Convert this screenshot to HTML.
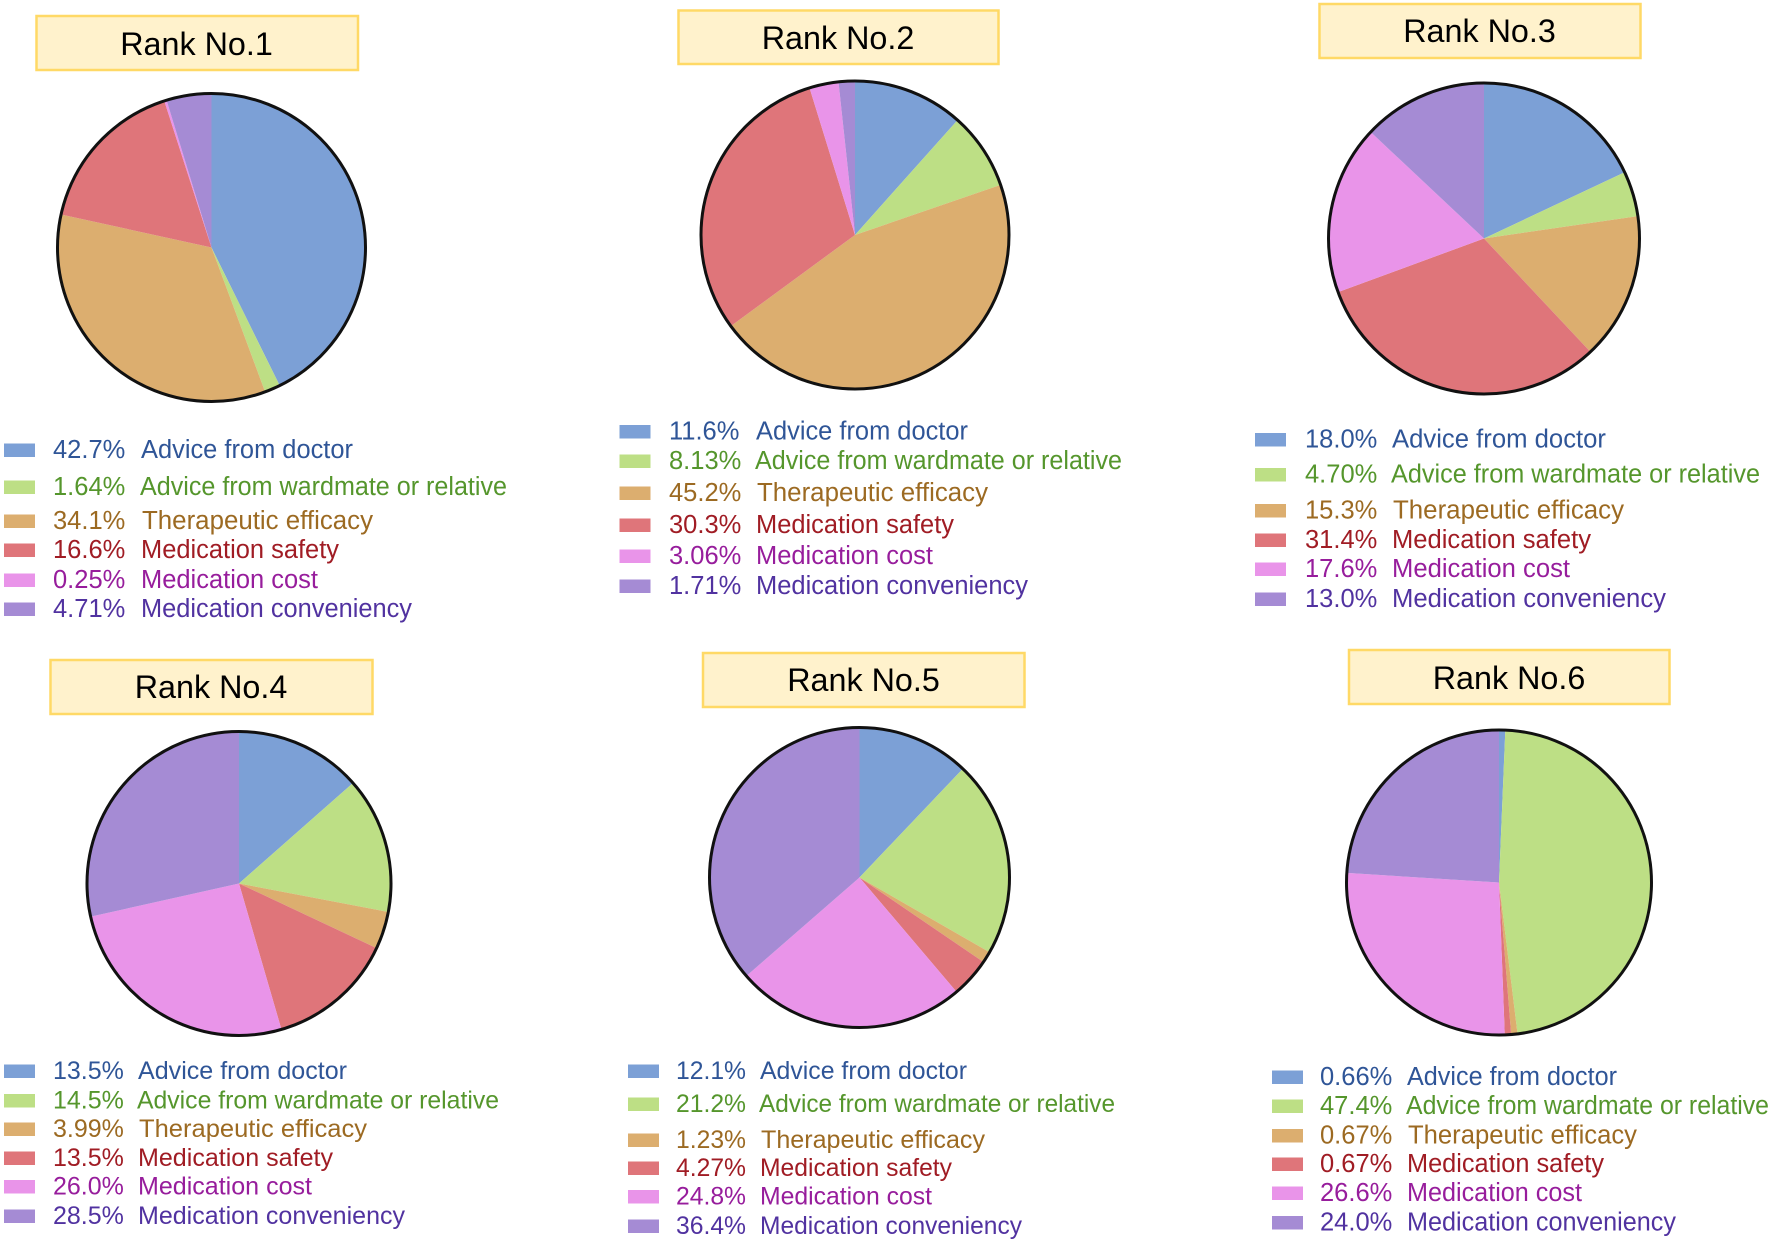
<!DOCTYPE html>
<html lang="en">
<head>
<meta charset="utf-8">
<title>Rank pie charts</title>
<style>
html,body{margin:0;padding:0;background:#fff;}
svg{display:block;font-family:"Liberation Sans",Arial,sans-serif;}
.title-box{fill:#FFF2CC;stroke:#FFD966;stroke-width:2.5;}
.title-text{font-size:32.3px;fill:#000;text-anchor:middle;}
</style>
</head>
<body>
<svg id="chart" xmlns="http://www.w3.org/2000/svg" width="1772" height="1241" viewBox="0 0 1772 1241">
  <rect x="0" y="0" width="1772" height="1241" fill="#fff"/>
  <g><rect class="title-box" x="36.5" y="16" width="321.5" height="54"/><text class="title-text" x="196.5" y="55">Rank No.1</text></g>
  <g><rect class="title-box" x="678.5" y="10.5" width="320" height="53.5"/><text class="title-text" x="838" y="49">Rank No.2</text></g>
  <g><rect class="title-box" x="1319.5" y="4" width="321" height="54"/><text class="title-text" x="1479.5" y="42">Rank No.3</text></g>
  <g><rect class="title-box" x="50.5" y="660" width="322" height="54"/><text class="title-text" x="211" y="698">Rank No.4</text></g>
  <g><rect class="title-box" x="703" y="653" width="321.5" height="54"/><text class="title-text" x="863.5" y="691">Rank No.5</text></g>
  <g><rect class="title-box" x="1349" y="650" width="320.5" height="54"/><text class="title-text" x="1509" y="689">Rank No.6</text></g>
</svg>
<script>
// Chart data
const categories = ["Advice from doctor", "Advice from wardmate or relative", "Therapeutic efficacy", "Medication safety", "Medication cost", "Medication conveniency"];
const rank1Values = [42.7, 1.64, 34.1, 16.6, 0.25, 4.71];
const rank2Values = [11.6, 8.13, 45.2, 30.3, 3.06, 1.71];
const rank3Values = [18.0, 4.70, 15.3, 31.4, 17.6, 13.0];
const rank4Values = [13.5, 14.5, 3.99, 13.5, 26.0, 28.5];
const rank5Values = [12.1, 21.2, 1.23, 4.27, 24.8, 36.4];
const rank6Values = [0.66, 47.4, 0.67, 0.67, 26.6, 24.0];

// Styles
const sliceColors = ["#7CA0D6", "#BDDF85", "#DCAE6F", "#DF757A", "#E994E9", "#A58BD4"];
const textColors = ["#2F5597", "#55962C", "#9C6A22", "#A01C24", "#971D9C", "#5132A0"];
const labelNudge = [0, -1, 1, 0, 0, 0];

// Page layout, one entry per panel (labelWidths fit each legend label's rendered width)
const layout = [
  {values: rank1Values, cx: 211.5, cy: 247.5, r: 154, font: 25.5, swatchX: 4, pctX: 53, labelX: 141, rows: [449, 486, 520, 549, 579, 608], labelWidths: [212, 367, 231, 198, 177, 271]},
  {values: rank2Values, cx: 855, cy: 235, r: 154, font: 25.5, swatchX: 619.5, pctX: 669, labelX: 756, rows: [430.5, 460, 492, 524, 555, 585], labelWidths: [212, 367, 231, 198, 177, 272]},
  {values: rank3Values, cx: 1484, cy: 238.5, r: 155.5, font: 25.5, swatchX: 1255, pctX: 1305, labelX: 1392, rows: [438.5, 473.5, 509.5, 539, 568, 598], labelWidths: [214, 369, 231, 199, 178, 274]},
  {values: rank4Values, cx: 239, cy: 883.5, r: 152, font: 25, swatchX: 4, pctX: 53, labelX: 138, rows: [1070, 1099.5, 1128, 1157, 1185.5, 1215], labelWidths: [209, 362, 228, 195, 174, 267]},
  {values: rank5Values, cx: 859.5, cy: 877.5, r: 150, font: 24.7, swatchX: 628, pctX: 676, labelX: 760, rows: [1070, 1103, 1139, 1167, 1195.5, 1225], labelWidths: [207, 356, 224, 192, 172, 262]},
  {values: rank6Values, cx: 1499, cy: 882.5, r: 152.5, font: 25.5, swatchX: 1272, pctX: 1320, labelX: 1407, rows: [1076, 1105, 1134.5, 1163, 1192, 1221.5], labelWidths: [210, 363, 229, 197, 175, 269]}
];

const SVG_NS = "http://www.w3.org/2000/svg";
const svg = document.getElementById("chart");

function angleScale(cumulative, total) {
  return (cumulative / total) * 2 * Math.PI;
}
function polar(cx, cy, r, angle) {
  return [cx + r * Math.sin(angle), cy - r * Math.cos(angle)];
}
function formatValue(v) {
  return (v < 1 ? v.toFixed(2) : v.toPrecision(3)) + "%";
}
function slug(s) {
  return s.toLowerCase().replace(/\s+/g, "-");
}

layout.forEach(function (panel, p) {
  const rank = p + 1;
  const total = panel.values.reduce(function (a, b) { return a + b; }, 0);

  const pie = document.createElementNS(SVG_NS, "g");
  
  
  svg.appendChild(pie);

  let cumulative = 0;
  panel.values.forEach(function (v, i) {
    const a0 = angleScale(cumulative, total);
    cumulative += v;
    const a1 = angleScale(cumulative, total);
    const s = polar(panel.cx, panel.cy, panel.r, a0);
    const e = polar(panel.cx, panel.cy, panel.r, a1);
    const large = a1 - a0 > Math.PI ? 1 : 0;
    const path = document.createElementNS(SVG_NS, "path");
    path.setAttribute("d", "M" + panel.cx + " " + panel.cy + "L" + s[0] + " " + s[1] + "A" + panel.r + " " + panel.r + " 0 " + large + " 1 " + e[0] + " " + e[1] + "Z");
    path.setAttribute("fill", sliceColors[i]);
    
    
    pie.appendChild(path);
  });

  const outline = document.createElementNS(SVG_NS, "circle");
  outline.setAttribute("cx", panel.cx);
  outline.setAttribute("cy", panel.cy);
  outline.setAttribute("r", panel.r);
  outline.setAttribute("fill", "none");
  outline.setAttribute("stroke", "#111");
  outline.setAttribute("stroke-width", "3");
  
  
  pie.appendChild(outline);

  panel.values.forEach(function (v, i) {
    const y = panel.rows[i];
    const entry = document.createElementNS(SVG_NS, "g");
    
    
    svg.appendChild(entry);

    const swatch = document.createElementNS(SVG_NS, "rect");
    swatch.setAttribute("x", panel.swatchX);
    swatch.setAttribute("y", y - 5.5);
    swatch.setAttribute("width", 31);
    swatch.setAttribute("height", 13.5);
    swatch.setAttribute("fill", sliceColors[i]);
    
    
    entry.appendChild(swatch);

    const pct = document.createElementNS(SVG_NS, "text");
    pct.setAttribute("font-size", panel.font);
    pct.setAttribute("x", panel.pctX);
    pct.setAttribute("y", y + 9);
    pct.setAttribute("fill", textColors[i]);
    pct.textContent = formatValue(v);
    
    
    entry.appendChild(pct);

    const label = document.createElementNS(SVG_NS, "text");
    label.setAttribute("font-size", panel.font);
    label.setAttribute("x", panel.labelX + labelNudge[i]);
    label.setAttribute("y", y + 9);
    label.setAttribute("fill", textColors[i]);
    label.setAttribute("textLength", panel.labelWidths[i]);
    label.setAttribute("lengthAdjust", "spacingAndGlyphs");
    label.textContent = categories[i];
    
    
    entry.appendChild(label);
  });
});
</script>
</body>
</html>
